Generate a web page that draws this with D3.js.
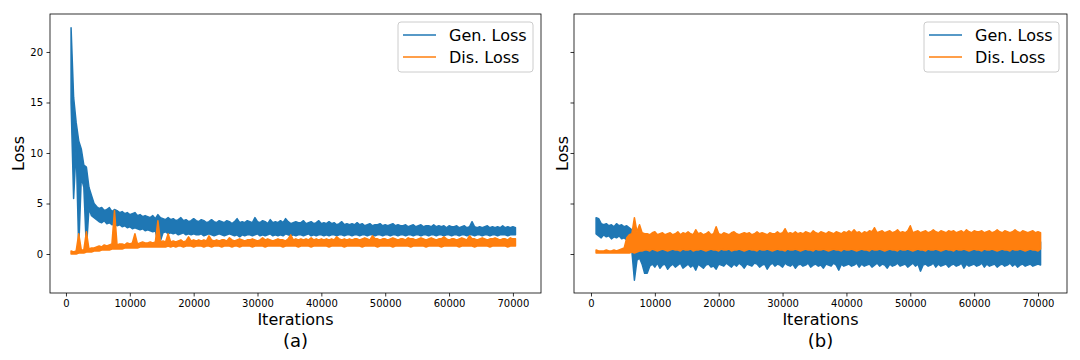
<!DOCTYPE html>
<html>
<head>
<meta charset="utf-8">
<script src="https://cdn.jsdelivr.net/npm/d3@7"></script>
<style>
body{margin:0;background:#fff}
text{font-family:"DejaVu Sans",sans-serif;fill:#000}
</style>
</head>
<body>
<script>
// each loss curve is read as a band: highest and lowest value inside
// every 400-iteration window, windows start at 800 and end at 70400
const iterations = d3.range(800, 70401, 400);

const genLossAHigh = [
 22.4,15.5,13.0,11.2,10.4,8.8,8.6,6.6,5.8,5.0,
 4.7,4.5,4.6,4.3,4.4,4.6,4.2,4.4,4.3,4.1,
 4.2,4.0,4.1,3.9,4.0,4.1,3.8,3.9,3.7,3.8,
 3.7,3.6,3.8,3.5,3.9,3.6,3.5,3.4,3.6,3.4,
 3.5,3.3,3.4,3.6,3.3,3.4,3.2,3.3,3.5,3.3,
 3.2,3.4,3.3,3.1,3.2,3.4,3.2,3.1,3.3,3.2,
 3.1,3.3,3.2,3.0,3.2,3.5,3.1,3.2,3.1,3.3,
 3.2,3.1,3.6,3.2,3.1,3.3,3.2,3.0,3.4,3.1,
 3.2,3.1,3.3,3.1,3.5,3.2,3.0,3.1,3.2,3.1,
 3.1,3.3,3.0,3.1,3.2,3.0,3.1,3.3,3.0,3.1,
 3.0,3.2,3.0,3.1,2.9,3.0,3.2,2.9,3.0,2.9,
 3.0,2.9,3.1,2.9,3.0,2.8,2.9,3.0,2.8,2.9,
 2.9,3.0,2.8,2.9,2.8,2.9,3.0,2.8,2.9,2.8,
 2.8,2.9,2.7,2.8,2.9,2.7,2.8,2.9,2.7,2.8,
 2.8,2.7,2.9,2.7,2.8,2.7,2.8,2.6,2.8,2.7,
 2.7,2.8,2.6,2.7,2.8,2.6,2.7,3.2,2.7,2.6,
 2.7,2.6,2.7,2.8,2.6,2.7,2.6,2.7,2.6,2.8,
 2.6,2.7,2.6,2.7,2.6
];
const genLossALow = [
 15.0,5.5,10.5,0.5,7.6,6.6,0.5,4.5,3.8,3.6,
 3.4,3.2,3.1,3.3,3.0,3.1,2.9,3.0,2.8,2.9,
 2.7,2.8,2.6,2.7,2.5,2.6,2.5,2.4,2.5,2.3,
 2.4,2.3,2.2,2.3,1.2,1.3,2.1,2.2,2.0,2.1,
 2.0,2.1,1.9,2.0,2.1,1.9,2.0,1.9,2.0,1.9,
 1.9,2.0,1.8,1.9,2.0,1.9,1.8,1.9,2.0,1.9,
 1.8,1.9,2.0,1.9,1.8,1.9,1.7,1.9,1.8,1.9,
 1.9,1.8,1.9,2.0,1.8,1.9,1.8,1.9,2.0,1.8,
 1.9,1.8,1.9,1.8,2.0,1.9,1.8,1.9,1.8,1.9,
 1.9,1.8,1.9,2.0,1.8,1.9,1.8,1.9,1.9,1.8,
 1.9,1.8,1.9,1.9,1.8,1.9,1.9,1.8,1.9,1.9,
 1.8,1.9,1.9,1.8,1.9,1.9,1.8,1.9,1.9,1.8,
 1.9,1.9,1.8,1.9,1.9,1.8,1.9,1.9,1.8,1.9,
 1.9,1.8,1.9,1.9,1.8,1.9,1.9,1.8,1.9,1.9,
 1.8,1.9,1.9,1.8,1.9,1.9,1.8,1.9,1.9,1.8,
 1.9,1.9,1.8,1.9,1.9,1.8,1.9,1.9,1.8,1.9,
 1.9,1.8,1.9,1.9,1.8,1.9,1.9,1.8,1.9,1.9,
 1.9,1.8,1.9,1.9,1.9
];
const disLossAHigh = [
 0.3,0.2,0.3,2.0,0.4,0.4,2.2,0.5,0.6,0.6,
 0.7,0.8,0.7,0.9,0.8,0.9,1.0,4.3,0.9,1.0,
 1.0,0.9,1.1,1.0,1.1,2.0,1.0,1.1,1.2,1.1,
 1.1,1.2,1.1,1.2,3.3,1.2,1.3,1.2,2.0,1.2,
 1.3,1.2,1.3,1.4,1.2,1.3,1.7,1.3,1.4,1.3,
 1.4,1.3,1.4,1.3,1.8,1.4,1.3,1.4,1.3,1.4,
 1.4,1.3,1.6,1.4,1.3,1.4,1.5,1.4,1.3,1.4,
 1.4,1.5,1.4,1.3,1.4,1.6,1.4,1.5,1.4,1.3,
 1.4,1.5,1.4,1.4,1.3,1.5,1.9,1.4,1.5,1.4,
 1.5,1.4,1.5,1.4,1.6,1.4,1.5,1.4,1.5,1.4,
 1.5,1.4,1.5,1.4,1.7,1.5,1.4,1.5,1.4,1.5,
 1.4,1.5,1.5,1.4,1.5,1.6,1.5,1.4,1.8,1.5,
 1.5,1.4,1.5,1.5,1.4,1.5,1.6,1.5,1.4,1.5,
 1.5,1.4,1.6,1.5,1.5,1.4,1.5,1.6,1.5,1.4,
 1.5,1.6,1.5,1.4,1.5,1.5,1.7,1.5,1.4,1.5,
 1.5,1.4,1.5,1.6,1.5,1.4,1.8,1.5,1.5,1.4,
 1.5,1.6,1.5,1.4,1.5,1.5,1.6,1.5,1.4,1.5,
 1.5,1.4,1.6,1.5,1.5
];
const disLossALow = [
 0.0,0.0,0.0,0.1,0.1,0.1,0.2,0.2,0.2,0.3,
 0.3,0.3,0.4,0.4,0.4,0.4,0.5,0.5,0.5,0.5,
 0.5,0.6,0.6,0.6,0.6,0.6,0.6,0.7,0.7,0.7,
 0.7,0.7,0.7,0.7,0.7,0.7,0.7,0.7,0.8,0.7,
 0.8,0.7,0.8,0.8,0.7,0.8,0.8,0.8,0.7,0.8,
 0.8,0.8,0.7,0.8,0.8,0.7,0.8,0.8,0.8,0.7,
 0.8,0.8,0.8,0.7,0.8,0.8,0.7,0.8,0.8,0.8,
 0.8,0.7,0.8,0.8,0.8,0.8,0.7,0.8,0.8,0.8,
 0.8,0.8,0.8,0.7,0.8,0.8,0.8,0.8,0.8,0.7,
 0.8,0.8,0.8,0.8,0.7,0.8,0.8,0.8,0.8,0.8,
 0.8,0.7,0.8,0.8,0.8,0.8,0.8,0.7,0.8,0.8,
 0.8,0.8,0.8,0.8,0.7,0.8,0.8,0.8,0.8,0.8,
 0.7,0.8,0.8,0.8,0.8,0.8,0.7,0.8,0.8,0.8,
 0.8,0.8,0.8,0.7,0.8,0.8,0.8,0.8,0.8,0.7,
 0.8,0.8,0.8,0.8,0.8,0.7,0.8,0.8,0.8,0.8,
 0.8,0.8,0.7,0.8,0.8,0.8,0.8,0.8,0.7,0.8,
 0.8,0.8,0.8,0.8,0.7,0.8,0.8,0.8,0.8,0.8,
 0.8,0.7,0.8,0.8,0.8
];
const genLossBHigh = [
 3.6,3.5,3.0,2.9,3.0,2.8,2.9,2.7,3.0,2.8,
 2.9,2.7,2.8,2.6,2.4,2.2,2.0,2.1,1.8,1.3,
 1.3,1.2,1.4,1.3,1.2,1.3,1.4,1.2,1.3,1.4,
 1.3,1.2,2.0,1.3,1.2,1.4,1.3,1.2,1.3,1.2,
 1.3,1.4,1.2,1.3,2.0,1.2,1.3,1.4,1.2,1.3,
 1.4,1.3,1.2,1.3,1.4,1.2,1.3,1.9,1.3,1.2,
 1.3,1.4,1.2,1.3,1.2,1.4,1.3,1.2,1.3,1.4,
 1.3,1.2,1.3,1.4,1.2,1.3,1.2,1.4,1.3,1.2,
 1.3,1.4,1.2,1.3,1.2,1.4,1.3,1.2,1.3,1.4,
 1.2,1.3,1.4,1.2,1.3,1.2,1.4,1.3,1.2,1.3,
 1.4,1.2,1.3,1.2,1.4,1.3,1.2,1.3,1.4,1.2,
 1.3,1.4,1.2,1.3,1.2,1.4,1.3,1.2,1.3,1.4,
 1.2,1.3,1.4,1.2,1.3,1.2,1.4,1.3,1.2,1.3,
 1.4,1.2,1.3,1.2,1.4,1.3,1.2,1.3,1.4,1.2,
 1.3,1.4,1.2,1.3,1.2,1.4,1.3,1.2,1.3,1.4,
 1.2,1.3,1.4,1.2,1.3,1.2,1.4,1.3,1.2,1.3,
 1.4,1.2,1.3,1.2,1.4,1.3,1.2,1.3,1.4,1.2,
 1.3,1.4,1.2,1.3,1.2
];
const genLossBLow = [
 2.0,1.8,1.6,1.9,1.7,1.8,1.5,1.7,1.6,1.8,
 1.5,1.6,1.4,0.4,0.3,-2.6,-0.6,-0.4,-1.0,-1.9,
 -1.9,-1.2,-1.0,-1.3,-0.9,-1.4,-1.1,-1.0,-1.5,-1.2,
 -1.0,-1.3,-1.1,-0.9,-1.4,-1.2,-1.0,-1.3,-1.1,-1.6,
 -1.0,-1.2,-1.4,-1.1,-1.0,-1.3,-1.2,-1.5,-1.0,-1.1,
 -1.2,-0.9,-1.1,-1.3,-1.0,-1.2,-0.9,-1.1,-1.4,-1.0,
 -1.1,-1.2,-0.9,-1.0,-1.3,-1.1,-1.0,-1.5,-1.1,-0.9,
 -1.2,-1.0,-1.1,-1.3,-0.9,-1.1,-1.2,-1.0,-1.4,-1.1,
 -1.0,-1.2,-1.1,-0.9,-1.3,-1.1,-1.0,-1.2,-1.1,-1.4,
 -1.0,-1.1,-1.2,-0.9,-1.1,-1.6,-1.0,-1.2,-1.1,-1.0,
 -1.2,-1.1,-0.9,-1.3,-1.0,-1.2,-1.1,-1.0,-1.3,-1.1,
 -0.9,-1.2,-1.0,-1.1,-1.4,-1.0,-1.2,-1.1,-0.9,-1.2,
 -1.1,-1.0,-1.3,-1.1,-0.9,-1.2,-1.0,-1.7,-1.1,-1.0,
 -1.2,-1.1,-0.9,-1.3,-1.0,-1.2,-1.1,-1.0,-1.3,-1.1,
 -1.0,-1.2,-1.1,-0.9,-1.4,-1.0,-1.2,-1.1,-1.0,-1.2,
 -1.1,-0.9,-1.3,-1.0,-1.2,-1.1,-1.0,-1.3,-1.1,-1.0,
 -1.2,-1.1,-0.9,-1.2,-1.0,-1.3,-1.1,-1.0,-1.2,-1.1,
 -1.0,-1.2,-1.1,-1.0,-1.1
];
const disLossBHigh = [
 0.4,0.3,0.3,0.3,0.4,0.3,0.3,0.4,0.3,0.4,
 0.5,0.6,1.6,1.9,2.0,3.6,2.2,2.9,2.1,2.0,
 2.0,1.9,2.1,2.2,1.9,2.0,2.1,1.9,2.0,2.1,
 1.9,2.0,2.2,1.9,2.1,2.0,2.2,2.0,1.9,2.4,
 2.0,2.1,1.9,2.0,2.2,1.9,2.0,2.7,2.0,1.9,
 2.1,2.0,1.9,2.1,2.2,2.0,1.9,2.0,2.1,2.0,
 2.1,1.9,2.0,2.2,2.0,2.1,2.0,1.9,2.1,2.0,
 2.0,2.2,2.0,2.1,2.5,2.0,2.1,2.0,2.2,2.0,
 2.1,2.0,2.2,2.1,2.0,2.3,2.1,2.0,2.2,2.1,
 2.0,2.2,2.1,2.0,2.2,2.1,2.0,2.2,2.1,2.3,
 2.1,2.4,2.1,2.2,2.0,2.2,2.1,2.3,2.2,2.6,
 2.1,2.2,2.3,2.1,2.2,2.3,2.1,2.2,2.4,2.1,
 2.2,2.1,2.3,2.8,2.1,2.2,2.3,2.1,2.2,2.3,
 2.1,2.2,2.4,2.2,2.1,2.3,2.2,2.1,2.3,2.2,
 2.3,2.1,2.2,2.3,2.1,2.4,2.2,2.1,2.3,2.2,
 2.2,2.3,2.1,2.2,2.3,2.1,2.2,2.4,2.2,2.1,
 2.3,2.2,2.1,2.2,2.4,2.2,2.1,2.3,2.2,2.1,
 2.2,2.3,2.1,2.2,2.1
];
const disLossBLow = [
 0.1,0.1,0.1,0.1,0.1,0.1,0.1,0.1,0.1,0.1,
 0.1,0.1,0.1,0.1,0.2,0.1,0.2,0.3,0.3,0.4,
 0.4,0.3,0.5,0.4,0.3,0.4,0.5,0.4,0.3,0.4,
 0.5,0.4,0.4,0.3,0.5,0.4,0.4,0.5,0.3,0.4,
 0.4,0.5,0.4,0.3,0.4,0.5,0.4,0.4,0.3,0.5,
 0.4,0.4,0.5,0.3,0.4,0.4,0.5,0.4,0.3,0.4,
 0.5,0.4,0.4,0.3,0.5,0.4,0.4,0.5,0.4,0.3,
 0.4,0.5,0.4,0.4,0.3,0.5,0.4,0.4,0.5,0.4,
 0.3,0.4,0.5,0.4,0.4,0.3,0.5,0.4,0.4,0.5,
 0.4,0.3,0.4,0.5,0.4,0.4,0.3,0.5,0.4,0.4,
 0.5,0.4,0.3,0.4,0.5,0.4,0.4,0.3,0.5,0.4,
 0.4,0.5,0.4,0.3,0.4,0.5,0.4,0.4,0.3,0.5,
 0.4,0.4,0.5,0.4,0.3,0.4,0.5,0.4,0.4,0.3,
 0.5,0.4,0.4,0.5,0.4,0.3,0.4,0.5,0.4,0.4,
 0.3,0.5,0.4,0.4,0.5,0.4,0.3,0.4,0.5,0.4,
 0.4,0.3,0.5,0.4,0.4,0.5,0.4,0.3,0.4,0.5,
 0.4,0.4,0.3,0.5,0.4,0.4,0.5,0.4,0.3,0.4,
 0.5,0.4,0.4,0.3,0.5
];

const xTicks = [0,10000,20000,30000,40000,50000,60000,70000];
const yTicks = [0,5,10,15,20];
const seriesNames = ["Gen. Loss","Dis. Loss"];
const colors = ["#1f77b4","#ff7f0e"];

function main(){
    const width = 1080;
    const height = 360;
    const top = 14, bottom = 293;

    const svg = d3.select("body").append("svg")
        .attr("width",width)
        .attr("height",height);

    const y = d3.scaleLinear().domain([-3.86,23.76]).range([bottom,top]);

    const panels = [
        {left:50, right:541, xDomain:[-2500,74400], tag:"(a)", yLabels:true,
         bands:[[genLossAHigh,genLossALow],[disLossAHigh,disLossALow]], lossX:24},
        {left:574, right:1067, xDomain:[-2660,74540], tag:"(b)", yLabels:false,
         bands:[[genLossBHigh,genLossBLow],[disLossBHigh,disLossBLow]], lossX:568}
    ];

    panels.forEach(function(p){
        const x = d3.scaleLinear().domain(p.xDomain).range([p.left,p.right]);
        const g = svg.append("g");

        // noisy curves drawn as their min/max band (gen first, dis on top)
        p.bands.forEach(function(b,k){
            const hi = b[0], lo = b[1];
            const area = d3.area()
                .x(function(d,i){ return x(iterations[i]); })
                .y0(function(d,i){ return y(lo[i]); })
                .y1(function(d){ return y(d); });
            g.append("path")
                .datum(hi)
                .attr("fill",colors[k])
                .attr("stroke",colors[k])
                .attr("stroke-width",1.5)
                .attr("stroke-linejoin","round")
                .attr("d",area);
        });

        // axes
        const xAxis = g.append("g")
            .attr("transform","translate(0,"+bottom+")")
            .call(d3.axisBottom(x).tickValues(xTicks).tickFormat(d3.format("d")).tickSize(3.5).tickPadding(3.5));
        const yAxis = g.append("g")
            .attr("transform","translate("+p.left+",0)")
            .call(d3.axisLeft(y).tickValues(yTicks).tickFormat(p.yLabels ? d3.format("d") : "").tickSize(3.5).tickPadding(3.5));
        [xAxis,yAxis].forEach(function(a){
            a.select(".domain").remove();
            a.selectAll("line").attr("stroke","#000").attr("stroke-width",0.8);
            a.selectAll("text").attr("font-size",10).attr("font-family","DejaVu Sans");
        });

        // frame
        g.append("rect")
            .attr("x",p.left).attr("y",top)
            .attr("width",p.right-p.left).attr("height",bottom-top)
            .attr("fill","none").attr("stroke","#000").attr("stroke-width",0.8);

        // labels
        const cx = (p.left+p.right)/2;
        g.append("text")
            .attr("x",cx).attr("y",325)
            .attr("text-anchor","middle").attr("font-size",16)
            .text("Iterations");
        g.append("text")
            .attr("x",cx).attr("y",347)
            .attr("text-anchor","middle").attr("font-size",18)
            .text(p.tag);
        g.append("text")
            .attr("transform","translate("+p.lossX+","+((top+bottom)/2)+") rotate(-90)")
            .attr("text-anchor","middle").attr("font-size",16)
            .text("Loss");

        // legend
        const lw = 135, lh = 50;
        const lx = p.right - 8 - lw, ly = 22;
        const leg = g.append("g");
        leg.append("rect")
            .attr("x",lx).attr("y",ly).attr("width",lw).attr("height",lh)
            .attr("rx",3)
            .attr("fill","#fff").attr("fill-opacity",0.8)
            .attr("stroke","#cccccc").attr("stroke-width",1);
        seriesNames.forEach(function(name,k){
            const yy = ly + 13 + k*22;
            leg.append("line")
                .attr("x1",lx+5).attr("x2",lx+38)
                .attr("y1",yy).attr("y2",yy)
                .attr("stroke",colors[k]).attr("stroke-width",1.5);
            leg.append("text")
                .attr("x",lx+51).attr("y",yy)
                .attr("dy","0.36em")
                .attr("font-size",16)
                .text(name);
        });
    });
}
main();
</script>
</body>
</html>
